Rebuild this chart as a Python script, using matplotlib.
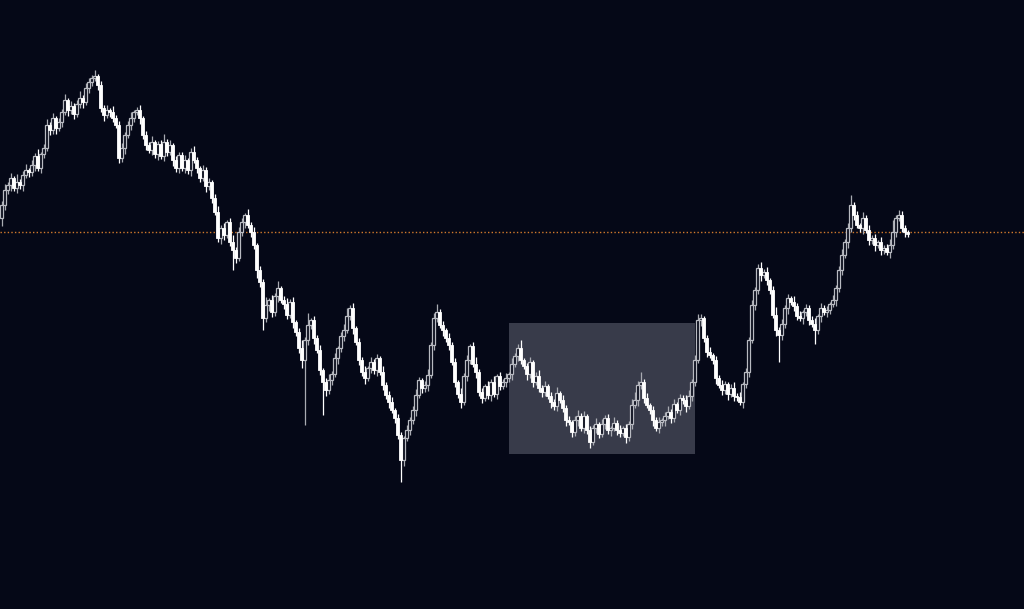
import numpy as np
import matplotlib.pyplot as plt
from matplotlib.patches import Rectangle

# closing prices, one per candle (arbitrary price units)
closes = [
    395, 410, 415, 422, 412, 418, 415, 425, 430, 428,
    435, 444, 432, 446, 452, 475, 470, 482, 472, 478,
    488, 500, 490, 494, 486, 496, 502, 498, 512, 518,
    522, 524, 515, 492, 485, 490, 488, 482, 475, 442,
    452, 465, 475, 482, 488, 490, 482, 465, 455, 450,
    458, 446, 456, 444, 458, 448, 455, 440, 432, 445,
    432, 440, 430, 448, 440, 432, 422, 430, 414, 418,
    402, 388, 362, 372, 365, 378, 358, 350, 342, 368,
    378, 385, 375, 368, 355, 330, 318, 282, 295, 300,
    288, 304, 312, 300, 296, 285, 298, 278, 268, 252,
    240, 260, 275, 280, 262, 250, 230, 218, 210, 220,
    226, 242, 252, 264, 270, 284, 292, 272, 258, 240,
    228, 222, 232, 238, 230, 242, 228, 215, 205, 198,
    190, 182, 165, 140, 162, 170, 180, 190, 205, 220,
    212, 215, 225, 255, 282, 288, 275, 270, 262, 255,
    238, 218, 206, 198, 224, 240, 254, 236, 228, 208,
    202, 214, 205, 218, 206, 224, 214, 218, 222, 226,
    236, 244, 252, 240, 234, 226, 238, 218, 224, 212,
    208, 214, 204, 198, 194, 207, 200, 192, 180, 178,
    168, 180, 184, 172, 184, 170, 158, 172, 176, 166,
    176, 182, 170, 172, 177, 170, 167, 172, 163, 176,
    195, 200, 215, 218, 202, 195, 190, 180, 172, 178,
    180, 184, 188, 182, 196, 190, 202, 200, 194, 204,
    218, 240, 280, 282, 262, 248, 245, 240, 222, 215,
    210, 216, 206, 212, 204, 203, 198, 216, 228, 260,
    295, 310, 332, 325, 328, 320, 310, 285, 270, 265,
    276, 292, 302, 298, 294, 284, 282, 288, 292, 280,
    276, 270, 284, 292, 288, 290, 296, 300, 312, 330,
    345, 358, 372, 395, 385, 375, 372, 382, 370, 360,
    362, 355, 358, 350, 352, 348, 355, 368, 382, 385,
    372, 368, 366,
]
first_open = 382

up_wick = [
    4, 6, 3, 5, 2, 8, 3, 4, 6, 2,
    5, 3, 7, 2, 4, 6, 3, 5, 2, 4,
    3, 6, 2, 5, 3, 4, 7, 3, 5, 4,
    3, 6, 2, 4, 3, 5, 2, 6, 3, 4,
    5, 3, 4, 6, 2, 3, 5, 2, 4, 3,
    6, 2, 3, 4, 8, 3, 5, 2, 4, 3,
    3, 5, 2, 4, 6, 3, 2, 5, 3, 4,
    2, 4, 6, 3, 5, 2, 4, 7, 3, 5,
    4, 2, 6, 3, 5, 2, 4, 3, 8, 2,
    5, 3, 7, 2, 4, 6, 3, 5, 2, 4,
    8, 3, 12, 2, 4, 3, 5, 2, 4, 6,
    3, 5, 2, 4, 6, 8, 3, 5, 2, 4,
    3, 6, 2, 5, 3, 4, 2, 6, 3, 4,
    5, 2, 4, 3, 2, 5, 3, 4, 6, 3,
    2, 4, 6, 3, 5, 8, 3, 4, 2, 5,
    3, 4, 2, 6, 3, 5, 2, 4, 7, 3,
    4, 2, 5, 3, 6, 2, 4, 3, 5, 2,
    6, 3, 4, 8, 2, 3, 5, 2, 4, 6,
    3, 5, 2, 4, 3, 6, 2, 5, 3, 4,
    2, 4, 6, 3, 5, 2, 4, 3, 6, 2,
    5, 3, 4, 2, 6, 3, 5, 2, 4, 3,
    6, 8, 4, 10, 3, 5, 2, 4, 3, 5,
    2, 4, 6, 3, 5, 2, 4, 3, 5, 6,
    3, 5, 6, 4, 2, 3, 5, 2, 4, 3,
    5, 3, 2, 4, 6, 3, 5, 2, 4, 3,
    5, 3, 4, 6, 3, 5, 2, 4, 8, 3,
    5, 3, 4, 2, 6, 3, 5, 2, 4, 3,
    4, 6, 2, 5, 3, 4, 2, 5, 3, 4,
    6, 3, 5, 10, 3, 4, 2, 6, 3, 5,
    3, 4, 2, 5, 3, 4, 6, 12, 3, 5,
    4, 3, 2,
]

dn_wick = [
    8, 5, 4, 6, 3, 5, 4, 6, 3, 5,
    4, 6, 3, 5, 4, 3, 5, 4, 6, 3,
    5, 3, 6, 4, 5, 3, 4, 6, 3, 5,
    4, 3, 5, 4, 6, 3, 5, 4, 3, 5,
    4, 6, 3, 5, 4, 3, 6, 4, 5, 3,
    5, 4, 6, 3, 5, 4, 3, 6, 4, 5,
    3, 5, 4, 6, 3, 5, 4, 3, 6, 4,
    5, 3, 4, 6, 5, 3, 4, 20, 5, 3,
    4, 6, 3, 5, 4, 8, 5, 12, 4, 6,
    5, 4, 6, 3, 5, 4, 3, 6, 4, 5,
    8, 65, 5, 4, 6, 3, 5, 33, 6, 4,
    5, 3, 6, 4, 5, 3, 4, 6, 3, 5,
    4, 6, 3, 5, 4, 6, 3, 5, 4, 6,
    3, 5, 4, 22, 6, 3, 5, 4, 6, 3,
    5, 4, 6, 3, 5, 4, 3, 6, 4, 5,
    3, 5, 4, 6, 3, 5, 4, 3, 6, 4,
    5, 3, 4, 6, 3, 5, 4, 3, 5, 4,
    6, 3, 5, 4, 3, 6, 4, 5, 3, 4,
    5, 4, 3, 6, 4, 5, 3, 4, 6, 3,
    5, 4, 6, 3, 5, 4, 6, 3, 5, 4,
    3, 5, 4, 6, 3, 5, 4, 3, 6, 4,
    5, 3, 6, 4, 5, 3, 4, 6, 3, 5,
    4, 6, 3, 5, 4, 3, 5, 4, 6, 3,
    5, 4, 3, 6, 4, 5, 3, 4, 6, 3,
    5, 4, 6, 3, 5, 4, 3, 6, 4, 5,
    3, 5, 4, 6, 3, 5, 4, 3, 6, 27,
    5, 4, 6, 3, 5, 4, 3, 6, 4, 5,
    3, 14, 4, 6, 3, 5, 4, 3, 6, 4,
    5, 3, 6, 4, 5, 3, 4, 6, 3, 5,
    4, 6, 3, 5, 4, 3, 6, 4, 5, 3,
    4, 5, 3,
]

level_price = 368          # orange dotted level
zone_start, zone_end = 169.3, 231.0   # candle index range of the grey zone
zone_low, zone_high = 146, 277

bg = '#050817'
close = np.array(closes, dtype=float)
opn = np.concatenate([[first_open], close[:-1]])
high = np.maximum(opn, close) + np.array(up_wick)
low = np.minimum(opn, close) - np.array(dn_wick)
idx = np.arange(len(close))
rising = close >= opn

fig = plt.figure(figsize=(10.24, 6.09), dpi=100)
fig.patch.set_facecolor(bg)
ax = fig.add_axes([0, 0, 1, 1])
ax.set_facecolor(bg)

ax.add_patch(Rectangle((zone_start, zone_low), zone_end - zone_start, zone_high - zone_low,
                       facecolor='#383b4a', edgecolor='none', zorder=1))

ax.axhline(level_price, color='#d27a2c', linestyle=(0, (1, 1.6)), linewidth=1.0, zorder=2)

# wicks
ax.vlines(idx[rising], low[rising], high[rising], color='#a9abb2', linewidth=0.9, zorder=3)
ax.vlines(idx[~rising], low[~rising], high[~rising], color='#ffffff', linewidth=0.9, zorder=3)

# bodies: rising hollow, falling filled white
body = np.abs(close - opn)
body = np.where(body < 1.5, 1.5, body)
bottom = np.minimum(opn, close)
ax.bar(idx[rising], body[rising], bottom=bottom[rising], width=0.7,
       facecolor=bg, edgecolor='#b8bac1', linewidth=0.9, zorder=4)
ax.bar(idx[~rising], body[~rising], bottom=bottom[~rising], width=0.7,
       facecolor='#ffffff', edgecolor='#ffffff', linewidth=0.6, zorder=4)

ax.set_xlim(-0.5, -0.5 + 1024 / 3)
ax.set_ylim(-9, 600)
ax.axis('off')

fig.savefig('out.png', dpi=100, facecolor=bg)
